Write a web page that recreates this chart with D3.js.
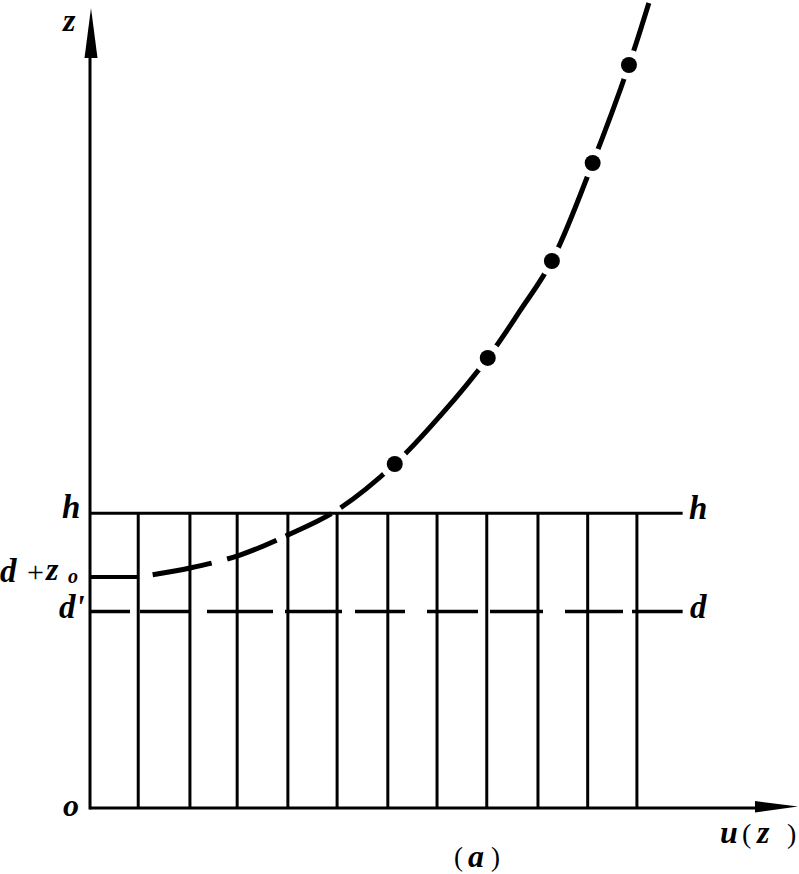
<!DOCTYPE html>
<html><head><meta charset="utf-8">
<script src="https://cdn.jsdelivr.net/npm/d3@7"></script>
<style>body{margin:0;background:#fff} svg{display:block}</style>
</head><body><svg id="c" width="799" height="874"></svg>
<script>
// ---- data (arbitrary units) ----
const uMax = 14.24, zMax = 8.14;
const sticks = [0.97, 2.01, 2.96, 3.98, 4.97, 5.99, 6.98, 7.98, 9.01, 10.01, 11.0];
const levelH = 3.0, levelD = 2.0, levelDZ0 = 2.35, levelEnd = 11.92;
const curveU = [0.965, 2.01, 3.016, 3.98, 4.967, 6.13, 7.06, 8.00, 8.65, 9.29, 10.11, 10.84, 11.24];
const curveZ = [2.35, 2.442, 2.574, 2.778, 3.03, 3.50, 4.00, 4.58, 5.06, 5.566, 6.563, 7.56, 8.19];
const dotU = [6.13, 8.00, 9.29, 10.11, 10.84];
const dotZ = [3.50, 4.58, 5.566, 6.563, 7.56];

const svg = d3.select('#c');
const x = d3.scaleLinear().domain([0, uMax]).range([90, 798]);
const y = d3.scaleLinear().domain([0, zMax]).range([808, 8]);
const serif = '"Liberation Serif","DejaVu Serif",serif';

// vertical sticks (canopy)
svg.append('g').selectAll('line').data(sticks).join('line')
  .attr('x1', d => x(d)).attr('x2', d => x(d))
  .attr('y1', y(levelH)).attr('y2', y(0))
  .attr('stroke', '#000').attr('stroke-width', 3);

// h line
svg.append('line').attr('x1', x(0)).attr('x2', x(levelEnd))
  .attr('y1', y(levelH)).attr('y2', y(levelH))
  .attr('stroke', '#000').attr('stroke-width', 3);
// d dashed line
svg.append('line').attr('x1', x(0)).attr('x2', x(levelEnd))
  .attr('y1', y(levelD)).attr('y2', y(levelD))
  .attr('stroke', '#000').attr('stroke-width', 3.5)
  .attr('stroke-dasharray', '40,10,51,16,66,12,57,13,50,22,51,12,53,22,58,9,60');
// d+z0 segment
svg.append('line').attr('x1', x(0)).attr('x2', x(sticks[0]))
  .attr('y1', y(levelDZ0)).attr('y2', y(levelDZ0))
  .attr('stroke', '#000').attr('stroke-width', 4);

// axes
svg.append('line').attr('x1', x(0)).attr('x2', x(0)).attr('y1', y(0) + 1.5).attr('y2', y(zMax) + 30)
  .attr('stroke', '#000').attr('stroke-width', 3);
svg.append('line').attr('x1', x(0)).attr('x2', x(uMax) - 30).attr('y1', y(0)).attr('y2', y(0))
  .attr('stroke', '#000').attr('stroke-width', 3);
const tipY = [x(0) + 1, y(zMax)];
svg.append('path').attr('d', `M${tipY[0]},${tipY[1]} L${tipY[0] + 6.5},${tipY[1] + 50} L${tipY[0] - 6.5},${tipY[1] + 50} Z`).attr('fill', '#000');
const tipX = [x(uMax), y(0) - 1.5];
svg.append('path').attr('d', `M${tipX[0]},${tipX[1]} L${tipX[0] - 43},${tipX[1] - 5.5} L${tipX[0] - 43},${tipX[1] + 6} Z`).attr('fill', '#000');

// profile curve (one smooth path; lower part dashed, upper part broken only at the dots)
const pts = curveU.map((u, i) => [u, curveZ[i]]);
const line = d3.line().x(d => x(d[0])).y(d => y(d[1])).curve(d3.curveCatmullRom.alpha(0.5));
const full = svg.append('path').attr('d', line(pts))
  .attr('fill', 'none').attr('stroke', '#000').attr('stroke-width', 5);
const node = full.node(), total = node.getTotalLength();
let lo = 0, hi = total, target = x(dotU[0]);
for (let k = 0; k < 40; k++) { const m = (lo + hi) / 2; if (node.getPointAtLength(m).x < target) lo = m; else hi = m; }
const pattern = [0, 15, 60, 16, 53, 10, 51, 11];
const used = pattern.reduce((a, b) => a + b, 0);
full.attr('stroke-dasharray', pattern.concat([Math.max(0, lo - used), 0, total]).join(','));
// gaps around dots
svg.append('g').selectAll('circle').data(dotU).join('circle')
  .attr('cx', d => x(d)).attr('cy', (d, i) => y(dotZ[i])).attr('r', 15).attr('fill', '#fff');
svg.append('g').selectAll('circle').data(dotU).join('circle')
  .attr('cx', d => x(d)).attr('cy', (d, i) => y(dotZ[i])).attr('r', 8).attr('fill', '#000');

// labels
function lab(t, px, py, size, italic, weight) {
  return svg.append('text').attr('x', px).attr('y', py).text(t)
    .attr('font-family', serif).attr('font-size', size)
    .attr('font-style', italic ? 'italic' : 'normal')
    .attr('font-weight', weight || 'bold').attr('fill', '#000');
}
lab('z', 63, 31, 32, true);
lab('h', 62, 518, 33, true);
lab('h', 689, 519, 33, true);
lab('d', 0, 582, 33, true);
lab('+', 27, 582, 30, false, 'normal');
lab('z', 46, 580, 32, true);
lab('o', 68, 583, 20, true);
lab("d'", 59, 618, 33, true);
lab('d', 690, 618, 33, true);
lab('o', 63, 816, 32, true);
lab('u', 720, 843, 32, true);
lab('(', 742, 843, 28, false, 'normal');
lab('z', 757, 843, 32, true);
lab(')', 787, 843, 28, false, 'normal');
lab('(', 454, 866, 27, false, 'normal');
lab('a', 468, 867, 32, true);
lab(')', 491, 866, 27, false, 'normal');
</script></body></html>
